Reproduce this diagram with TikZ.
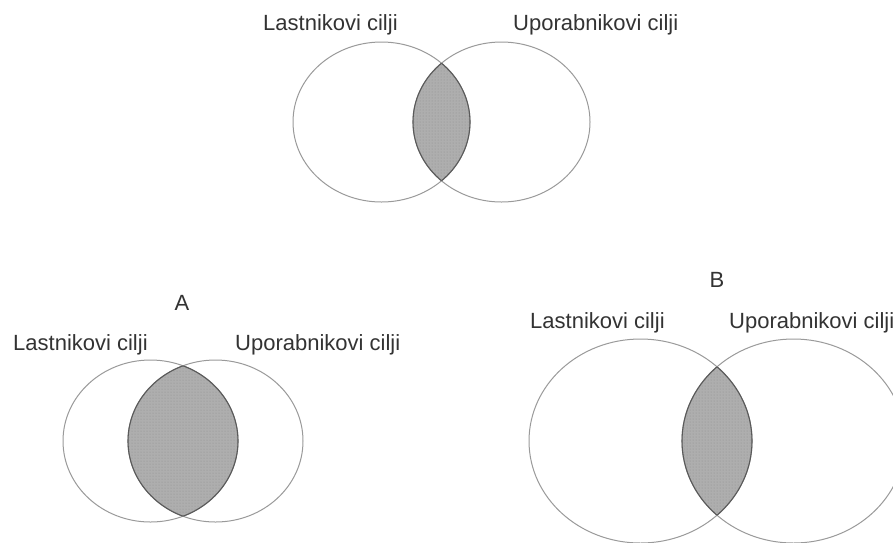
\documentclass[tikz,border=0pt]{standalone}
\usepackage{fontspec}
\setmainfont{Liberation Sans}
\usetikzlibrary{patterns}
\definecolor{ringcol}{HTML}{9A9A9A}
\definecolor{edgecol}{HTML}{5A5A5A}
\definecolor{lenscol}{HTML}{AEAEAE}
\definecolor{dotcol}{HTML}{8E8E8E}
\definecolor{txtcol}{HTML}{333333}
\tikzset{
  ring/.style={draw=ringcol, line width=1pt},
  lensedge/.style={draw=edgecol, line width=1.1pt},
  lensfill/.style={fill=lenscol},
  lensdots/.style={pattern=dots, pattern color=dotcol},
  lbl/.style={text=txtcol, font=\fontsize{22}{24}\selectfont, inner sep=0pt, anchor=base west},
  ttl/.style={text=txtcol, font=\fontsize{22}{24}\selectfont, inner sep=0pt, anchor=base}
}
\newcommand\vennpair[5]{%
  \begin{scope}
    \clip (#1,#3) ellipse [x radius=#4pt, y radius=#5pt];
    \fill[lensfill] (#2,#3) ellipse [x radius=#4pt, y radius=#5pt];
    \fill[lensdots] (#2,#3) ellipse [x radius=#4pt, y radius=#5pt];
  \end{scope}
  \draw[ring] (#1,#3) ellipse [x radius=#4pt, y radius=#5pt];
  \draw[ring] (#2,#3) ellipse [x radius=#4pt, y radius=#5pt];
  \begin{scope}
    \clip (#1,#3) ellipse [x radius=#4pt, y radius=#5pt];
    \draw[lensedge] (#2,#3) ellipse [x radius=#4pt, y radius=#5pt];
  \end{scope}
  \begin{scope}
    \clip (#2,#3) ellipse [x radius=#4pt, y radius=#5pt];
    \draw[lensedge] (#1,#3) ellipse [x radius=#4pt, y radius=#5pt];
  \end{scope}
}
\begin{document}
\begin{tikzpicture}[x=1pt, y=-1pt]
  \useasboundingbox (0,0) rectangle (893,542);
  \clip (0,0) rectangle (893,542);
  \fill[white] (0,0) rectangle (893,542);
  % top
  \vennpair{381.5}{501.5}{122}{88.5}{80}
  \node[lbl] (tl) at (263,30) {Lastnikovi cilji};
  \node[lbl] (tr) at (513,30) {Uporabnikovi cilji};
  % A
  \vennpair{150.5}{215.5}{441}{87.5}{81}
  \node[ttl] (atitle) at (182,310) {A};
  \node[lbl] (al) at (13,350) {Lastnikovi cilji};
  \node[lbl] (ar) at (235,350) {Uporabnikovi cilji};
  % B
  \vennpair{640.5}{793.5}{441}{111.5}{102}
  \node[ttl] (btitle) at (717,287) {B};
  \node[lbl] (bl) at (530,328) {Lastnikovi cilji};
  \node[lbl] (br) at (729,328) {Uporabnikovi cilji};
\end{tikzpicture}
\end{document}
